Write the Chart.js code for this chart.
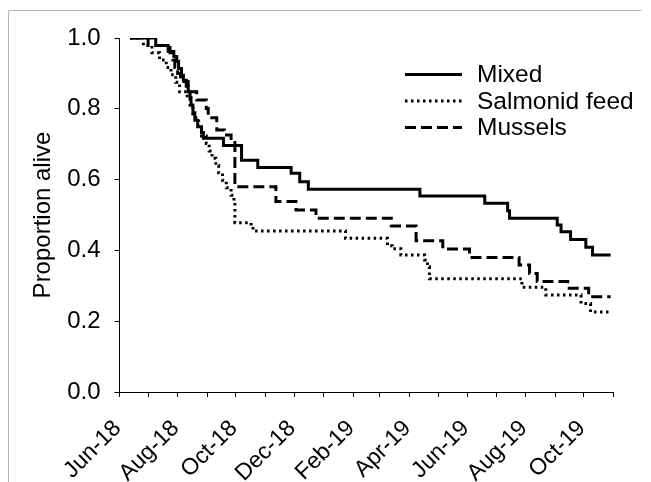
<!DOCTYPE html>
<html>
<head>
<meta charset="utf-8">
<script src="https://cdn.jsdelivr.net/npm/chart.js@4.4.1/dist/chart.umd.min.js"></script>
<style>
  html, body { margin: 0; padding: 0; background: #ffffff; }
  canvas { display: block; }
</style>
</head>
<body>
<canvas id="c" width="651" height="482"></canvas>
<script>
// Time is in days since 1 Jun 2018; values are proportion alive after each step.
const mixedDay   = [11, 38, 51, 57, 60, 62, 65, 67, 70, 72, 74, 75, 77, 79, 82, 86, 88, 109, 128, 145, 180, 189, 198, 315, 383, 407, 409, 459, 463, 473, 489, 496, 515];
const mixedAlive = [1.0, 0.979, 0.962, 0.948, 0.934, 0.914, 0.895, 0.881, 0.864, 0.848, 0.832, 0.811, 0.789, 0.768, 0.749, 0.733, 0.717, 0.696, 0.655, 0.634, 0.618, 0.594, 0.573, 0.554, 0.533, 0.512, 0.491, 0.472, 0.453, 0.431, 0.409, 0.387, 0.387];

const salmonDay   = [11, 25, 34, 42, 49, 54, 59, 63, 71, 74, 77, 80, 83, 86, 91, 94, 97, 101, 104, 108, 112, 117, 120, 121, 138, 140, 237, 281, 286, 295, 320, 323, 325, 422, 447, 484, 494, 515];
const salmonAlive = [1.0, 0.979, 0.958, 0.938, 0.917, 0.896, 0.875, 0.848, 0.827, 0.806, 0.785, 0.765, 0.744, 0.723, 0.702, 0.681, 0.660, 0.640, 0.619, 0.598, 0.577, 0.556, 0.535, 0.478, 0.467, 0.455, 0.434, 0.413, 0.405, 0.387, 0.373, 0.354, 0.320, 0.296, 0.274, 0.250, 0.226, 0.226];

const musselDay   = [11, 30, 53, 56, 58, 61, 64, 72, 81, 91, 93, 102, 110, 117, 121, 164, 185, 206, 285, 311, 339, 367, 419, 430, 438, 470, 492, 515];
const musselAlive = [1.0, 0.979, 0.958, 0.938, 0.917, 0.90, 0.877, 0.848, 0.825, 0.801, 0.775, 0.740, 0.726, 0.712, 0.580, 0.538, 0.514, 0.491, 0.469, 0.427, 0.404, 0.380, 0.359, 0.335, 0.312, 0.293, 0.269, 0.269];

// Month starts (days since 1 Jun 2018) and their labels
const monthDay   = [0, 30, 61, 92, 122, 153, 183, 214, 245, 273, 304, 334, 365, 395, 426, 457, 487, 518];
const monthLabel = ['Jun-18','Jul-18','Aug-18','Sep-18','Oct-18','Nov-18','Dec-18','Jan-19','Feb-19','Mar-19','Apr-19','May-19','Jun-19','Jul-19','Aug-19','Sep-19','Oct-19','Nov-19'];
const yTicks = [0, 0.2, 0.4, 0.6, 0.8, 1.0];

const FONT = '"Liberation Sans", Arial, sans-serif';
const toPts = (xs, ys) => xs.map((x, i) => ({ x: x, y: ys[i] }));

const insideLegend = {
  id: 'insideLegend',
  afterDraw(chart) {
    const ctx = chart.ctx;
    chart.data.datasets.forEach((ds, i) => {
      const y = 74.5 + i * 26.5;
      ctx.save();
      ctx.strokeStyle = ds.borderColor;
      ctx.lineWidth = ds.borderWidth;
      ctx.lineCap = 'butt';
      ctx.setLineDash(ds.borderDash || []);
      ctx.beginPath();
      ctx.moveTo(405, y);
      ctx.lineTo(462, y);
      ctx.stroke();
      ctx.setLineDash([]);
      ctx.fillStyle = '#000';
      ctx.font = '24.5px ' + FONT;
      ctx.textBaseline = 'middle';
      ctx.textAlign = 'left';
      ctx.fillText(ds.label, 477, y + 1);
      ctx.restore();
    });
  }
};

const frame = {
  id: 'frame',
  beforeDraw(chart) {
    const ctx = chart.ctx;
    ctx.save();
    ctx.strokeStyle = '#b4b4b4';
    ctx.lineWidth = 1;
    ctx.beginPath();
    ctx.moveTo(8.5, 482);
    ctx.lineTo(8.5, 10.5);
    ctx.lineTo(641.5, 10.5);
    ctx.stroke();
    ctx.restore();
  }
};

new Chart(document.getElementById('c'), {
  type: 'line',
  data: {
    datasets: [
      { label: 'Mixed', data: toPts(mixedDay, mixedAlive), borderColor: '#000', borderWidth: 3, stepped: true, pointRadius: 0, fill: false },
      { label: 'Salmonid feed', data: toPts(salmonDay, salmonAlive), borderColor: '#000', borderWidth: 3, borderDash: [2.5, 3.5], stepped: true, pointRadius: 0, fill: false },
      { label: 'Mussels', data: toPts(musselDay, musselAlive), borderColor: '#000', borderWidth: 3, borderDash: [11, 5], stepped: true, pointRadius: 0, fill: false }
    ]
  },
  options: {
    responsive: false,
    animation: false,
    devicePixelRatio: 1,
    layout: { padding: { left: 0, right: 37, top: 38, bottom: 0 } },
    plugins: { legend: { display: false }, tooltip: { enabled: false } },
    scales: {
      x: {
        type: 'linear',
        min: 0,
        max: 518,
        afterBuildTicks: (s) => { s.ticks = monthDay.map(v => ({ value: v })); },
        afterFit: (s) => { s.height = 90; },
        ticks: {
          autoSkip: false,
          maxRotation: 45,
          minRotation: 45,
          padding: 18,
          labelOffset: -2,
          color: '#000',
          font: { family: FONT, size: 23 },
          callback: (v, i) => (i % 2 === 0 ? monthLabel[i] : '')
        },
        grid: { display: true, drawOnChartArea: false, drawTicks: true, tickLength: 5, tickColor: '#000', color: '#000' },
        border: { display: true, color: '#000', width: 1 }
      },
      y: {
        min: 0,
        max: 1,
        afterBuildTicks: (s) => { s.ticks = yTicks.map(v => ({ value: v })); },
        afterFit: (s) => { s.width = 119.5; },
        ticks: {
          padding: 14,
          color: '#000',
          font: { family: FONT, size: 24 },
          callback: (v) => Number(v).toFixed(1)
        },
        title: {
          display: true,
          text: 'Proportion alive',
          color: '#000',
          font: { family: FONT, size: 24 },
          padding: { top: 29, bottom: 0 }
        },
        grid: { display: true, drawOnChartArea: false, drawTicks: true, tickLength: 5, tickColor: '#000', color: '#000' },
        border: { display: true, color: '#000', width: 1 }
      }
    }
  },
  plugins: [frame, insideLegend]
});
</script>
</body>
</html>
